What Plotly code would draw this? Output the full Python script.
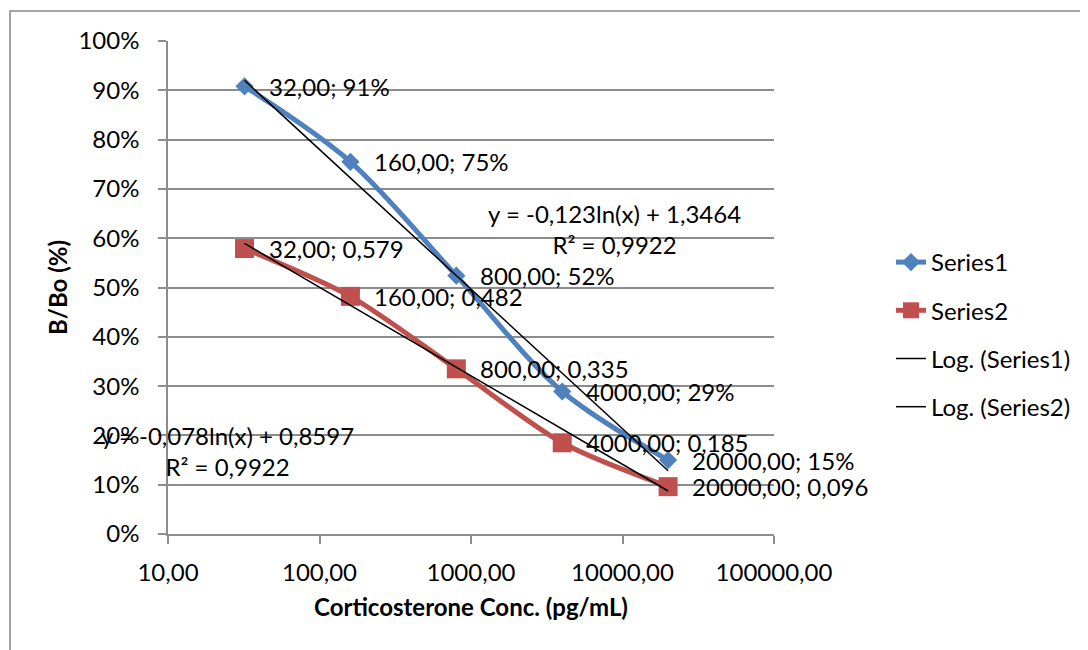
import numpy as np
import plotly.graph_objects as go

# ---- data ----
conc = [32, 160, 800, 4000, 20000]
series1 = [0.908, 0.755, 0.524, 0.289, 0.150]
series2 = [0.579, 0.482, 0.335, 0.185, 0.096]
labels1 = ["32,00; 91%", "160,00; 75%", "800,00; 52%", "4000,00; 29%", "20000,00; 15%"]
labels2 = ["32,00; 0,579", "160,00; 0,482", "800,00; 0,335", "4000,00; 0,185", "20000,00; 0,096"]
trend1_coef = [-0.123, 1.3464]
trend2_coef = [-0.078, 0.8597]
eq1 = ["y = -0,123ln(x) + 1,3464", "R² = 0,9922"]
eq2 = ["y = -0,078ln(x) + 0,8597", "R² = 0,9922"]
x_tickvals = [10, 100, 1000, 10000, 100000]
x_ticktext = ["10,00", "100,00", "1000,00", "10000,00", "100000,00"]
y_tickvals = [0, 0.1, 0.2, 0.3, 0.4, 0.5, 0.6, 0.7, 0.8, 0.9, 1.0]

BLUE = "#4F81BD"
RED = "#C0504D"
GRID = "#8C8C8C"
FONT = "Lato"
FS = 24

OFF = 8  # page body margin
W, H = 1080, 642
# plot area in screen pixels: x 168..774, y 41..534
L, T = 168 - OFF, 41 - OFF
R = W - (774 - OFF)
B = H - (534 - OFF)
pw, ph = W - L - R, H - T - B

xarr = np.array(conc, dtype=float)
tr1 = trend1_coef[0] * np.log(xarr) + trend1_coef[1]
tr2 = trend2_coef[0] * np.log(xarr) + trend2_coef[1]

fig = go.Figure()
fig.add_trace(go.Scatter(x=conc, y=series1, name="Series1", mode="lines+markers",
                         line=dict(color=BLUE, width=5, shape="spline", smoothing=0.9),
                         marker=dict(symbol="diamond", size=14, color=BLUE),
                         legendgroup="a"))
fig.add_trace(go.Scatter(x=conc, y=series2, name="Series2", mode="lines+markers",
                         line=dict(color=RED, width=5, shape="spline", smoothing=0.8),
                         marker=dict(symbol="square", size=19, color=RED),
                         legendgroup="b"))
fig.add_trace(go.Scatter(x=conc, y=tr1, name="Log. (Series1)", mode="lines",
                         line=dict(color="black", width=1.5), legendgroup="c"))
fig.add_trace(go.Scatter(x=conc, y=tr2, name="Log. (Series2)", mode="lines",
                         line=dict(color="black", width=1.5), legendgroup="d"))

ann = []
for xs, ys, labs in [(conc, series1, labels1), (conc, series2, labels2)]:
    for xv, yv, t in zip(xs, ys, labs):
        ann.append(dict(x=np.log10(xv), y=yv, xref="x", yref="y", text=t,
                        showarrow=False, xanchor="left", yanchor="middle",
                        xshift=22, font=dict(family=FONT, size=FS, color="black")))

def px2paper(px, py):
    # screen pixel -> paper coords
    fx, fy = px - OFF, py - OFF
    return (fx - L) / pw, (H - B - fy) / ph

# trendline equation labels
for (cx, cy), lines in [((614, 229), eq1), ((227, 451), eq2)]:
    ax, ay = px2paper(cx, cy)
    ann.append(dict(x=ax, y=ay, xref="paper", yref="paper", text="<br>".join(lines),
                    showarrow=False, xanchor="center", yanchor="middle", align="center",
                    font=dict(family=FONT, size=FS, color="black")))

# outer chart border
bx0, by0 = px2paper(10, 11)
bx1, by1 = px2paper(1110, 670)
shapes = [dict(type="rect", xref="paper", yref="paper", x0=bx0, y0=by1, x1=bx1, y1=by0,
               line=dict(color="#868686", width=1.5), fillcolor="rgba(0,0,0,0)", layer="below")]

lx, ly = px2paper(891, 240)

fig.update_layout(
    width=W, height=H,
    margin=dict(l=L, r=R, t=T, b=B, pad=0),
    paper_bgcolor="white", plot_bgcolor="white",
    font=dict(family=FONT, size=FS, color="black"),
    showlegend=True,
    legend=dict(x=lx, y=ly, xanchor="left", yanchor="top", traceorder="grouped",
                tracegroupgap=14, font=dict(family=FONT, size=FS, color="black"),
                bgcolor="rgba(0,0,0,0)"),
    annotations=ann,
    shapes=shapes,
    xaxis=dict(type="log", range=[1, 5], tickvals=x_tickvals, ticktext=x_ticktext,
               showgrid=False, showline=True, linecolor=GRID, linewidth=1.5,
               ticks="outside", ticklen=8, tickcolor=GRID, tickwidth=1.5,
               tickfont=dict(family=FONT, size=FS), ticklabelstandoff=8,
               zeroline=False,
               title=dict(text="<b>Corticosterone Conc. (pg/mL)</b>",
                          font=dict(family=FONT, size=FS), standoff=15)),
    yaxis=dict(range=[0, 1], tickvals=y_tickvals, tickformat=".0%",
               showgrid=True, gridcolor=GRID, gridwidth=1.5,
               showline=True, linecolor=GRID, linewidth=1.5,
               ticks="outside", ticklen=8, tickcolor=GRID, tickwidth=1.5,
               tickfont=dict(family=FONT, size=FS), ticklabelstandoff=14,
               zeroline=False,
               title=dict(text="<b>B/Bo (%)</b>", font=dict(family=FONT, size=FS), standoff=4)),
)

fig.write_html("out.html")
